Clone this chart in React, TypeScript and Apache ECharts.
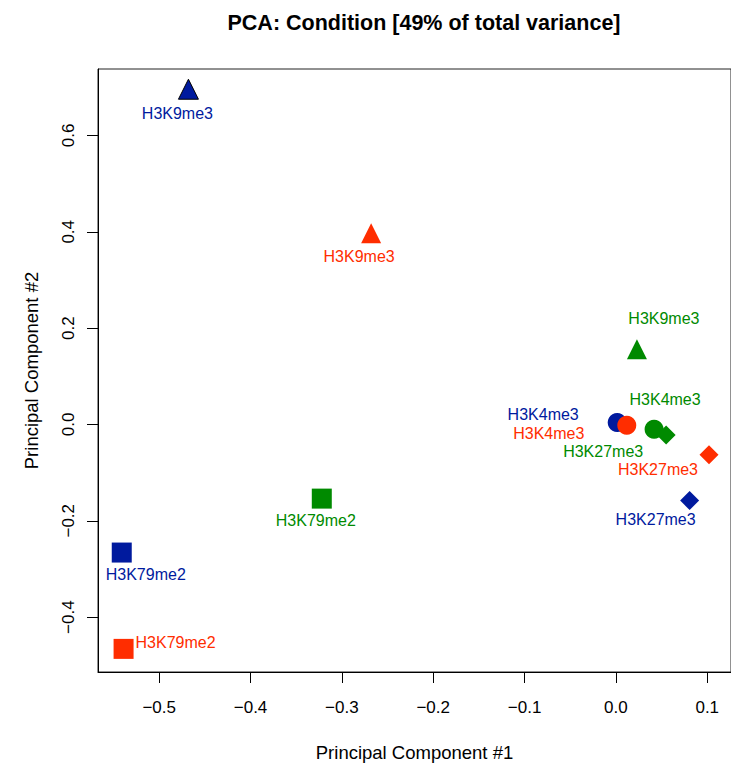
import React, { useEffect, useRef } from "react";
import * as echarts from "echarts";

// ---- data ----
const marks = ["H3K9me3", "H3K4me3", "H3K27me3", "H3K79me2"];
const markSymbols = ["triangle", "circle", "diamond", "rect"];

const blueX = [-0.468, 0.0014, 0.0807, -0.541];
const blueY = [0.696, 0.004, -0.158, -0.266];
const redX = [-0.268, 0.0119, 0.1019, -0.539];
const redY = [0.397, -0.0015, -0.063, -0.466];
const greenX = [0.023, 0.0418, 0.055, -0.322];
const greenY = [0.156, -0.0098, -0.022, -0.154];

const xTicks = [-0.5, -0.4, -0.3, -0.2, -0.1, 0.0, 0.1];
const yTicks = [-0.4, -0.2, 0.0, 0.2, 0.4, 0.6];

// ---- layout (label offsets in px, per mark) ----
const blueLabelOffsets = [[-11, 24], [-74, -8], [-34, 19], [24, 22]];
const redLabelOffsets = [[-12, 23], [-78, 8], [-51, 15], [52, -6]];
const greenLabelOffsets = [[27, -31], [11, -30], [-63, 16], [-6, 22]];

const BLUE = "#001a9e";
const RED = "#ff2d00";
const GREEN = "#008a00";
const FONT = "'Liberation Sans', Arial, Helvetica, sans-serif";

const symbolSizes: Record<string, number> = { triangle: 20, circle: 19, diamond: 19, rect: 20 };

function fmt(v: number) {
  const s = Math.abs(v) < 1e-9 ? "0.0" : v.toFixed(1);
  return s.replace("-", "\u2212");
}

function makeSeries(name: string, xs: number[], ys: number[], offs: number[][], color: string, outlineTriangle: boolean) {
  return {
    type: "scatter",
    name,
    data: xs.map((x, i) => {
      const sym = markSymbols[i];
      return {
        name: marks[i],
        value: [x, ys[i]],
        symbol: sym,
        symbolSize: symbolSizes[sym],
        itemStyle:
          outlineTriangle && sym === "triangle"
            ? { color, borderColor: "#000", borderWidth: 1 }
            : { color },
        label: {
          show: true,
          position: "inside",
          offset: offs[i],
          formatter: marks[i],
          color,
          fontSize: 16,
          fontFamily: FONT,
        },
      };
    }),
    itemStyle: { color, opacity: 1 },
    emphasis: { disabled: true },
  };
}

export default function App() {
  const ref = useRef<HTMLDivElement>(null);
  useEffect(() => {
    if (!ref.current) return;
    const chart = echarts.init(ref.current, undefined, { renderer: "svg" });
    chart.setOption({
      animation: false,
      backgroundColor: "#fff",
      title: {
        text: "PCA: Condition [49% of total variance]",
        left: 419,
        top: 7,
        textAlign: "center",
        textStyle: { fontSize: 21.5, fontWeight: "bold", fontFamily: FONT, color: "#000" },
      },
      grid: {
        left: 98,
        top: 69,
        width: 642,
        height: 603,
        show: true,
        borderColor: "#222",
        borderWidth: 1,
        backgroundColor: "transparent",
      },
      xAxis: {
        type: "value",
        min: -0.567,
        max: 0.126,
        splitLine: { show: false },
        axisLine: { show: true, onZero: false, lineStyle: { color: "#000", width: 1 } },
        axisTick: { show: true, length: 11, customValues: xTicks, lineStyle: { color: "#000" } },
        axisLabel: {
          customValues: xTicks,
          formatter: (v: number) => fmt(v),
          fontSize: 17,
          fontFamily: FONT,
          color: "#000",
          margin: 27,
        },
        name: "Principal Component #1",
        nameLocation: "middle",
        nameGap: 71,
        nameTextStyle: { fontSize: 18.5, fontFamily: FONT, color: "#000" },
      },
      yAxis: {
        type: "value",
        min: -0.514,
        max: 0.738,
        splitLine: { show: false },
        axisLine: { show: true, onZero: false, lineStyle: { color: "#000", width: 1 } },
        axisTick: { show: true, length: 11, customValues: yTicks, lineStyle: { color: "#000" } },
        axisLabel: {
          customValues: yTicks,
          formatter: (v: number) => fmt(v),
          rotate: 90,
          fontSize: 17,
          fontFamily: FONT,
          color: "#000",
          margin: 21,
        },
        name: "Principal Component #2",
        nameLocation: "middle",
        nameGap: 57,
        nameTextStyle: { fontSize: 18.5, fontFamily: FONT, color: "#000" },
      },
      series: [
        makeSeries("Blue", blueX, blueY, blueLabelOffsets, BLUE, true),
        makeSeries("Red", redX, redY, redLabelOffsets, RED, false),
        makeSeries("Green", greenX, greenY, greenLabelOffsets, GREEN, false),
      ],
    });
    return () => chart.dispose();
  }, []);
  return (
    <div
      ref={ref}
      style={{ position: "fixed", left: 0, top: 0, width: 731, height: 767 }}
    />
  );
}
